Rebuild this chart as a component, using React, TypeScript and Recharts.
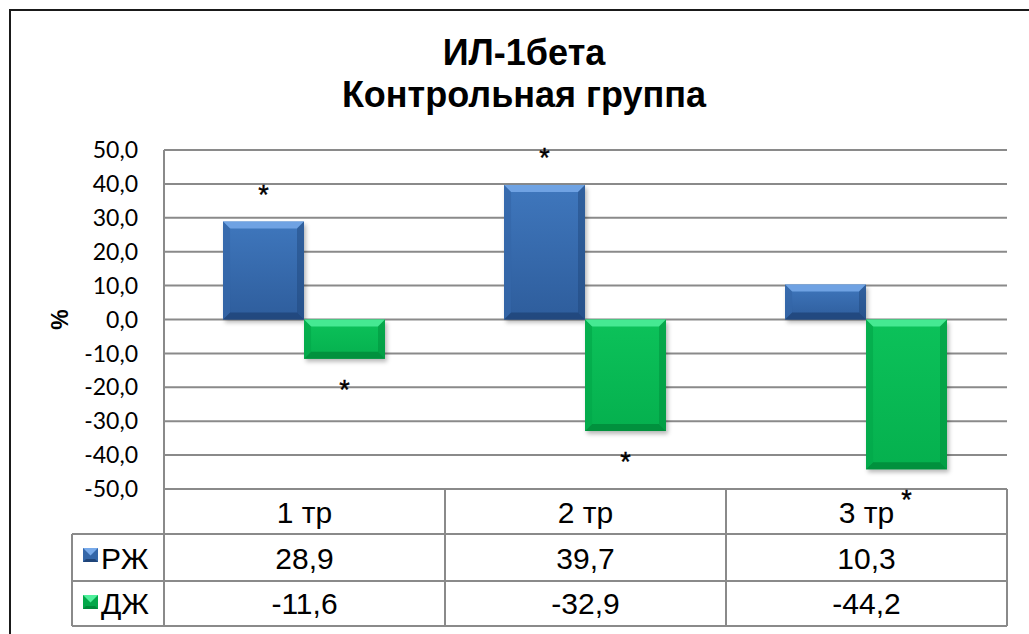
import React from 'react';
import { Bar, BarChart, CartesianGrid, LabelList, XAxis, YAxis } from 'recharts';

// data
const CATEGORIES = ['1 тр', '2 тр', '3 тр'];
const SERIES_NAMES = ['РЖ', 'ДЖ'];
const RZH = [28.9, 39.7, 10.3];
const DZH = [-11.6, -32.9, -44.2];
const RZH_MARKED = [true, true, false];
const DZH_MARKED = [true, true, true];
const Y_TICKS = [-50, -40, -30, -20, -10, 0, 10, 20, 30, 40, 50];

const CHART_W = 1029;
const CHART_H = 634;
const MARGIN = { top: 150, right: 22, left: 72, bottom: 8 };
const Y_AXIS_W = 92;
const X_AXIS_H = 137;
const PLOT_W = CHART_W - MARGIN.left - MARGIN.right - Y_AXIS_W;
const ROW_H = [45, 47, 45];

const GRID = '#8a8a8a';
const TABLE_FONT = '"Liberation Sans", Arial, sans-serif';

const fmt = (v: number) => v.toFixed(1).replace('.', ',');

const data = CATEGORIES.map((name, i) => ({ name, rzh: RZH[i], dzh: DZH[i] }));

const PALETTE = {
  blue: { top: '#3f77bd', bottom: '#2e5d9c', light: '#78aaea', dark: '#1f4478', side: '#3466a8' },
  green: { top: '#0cc25a', bottom: '#05b04e', light: '#50f09c', dark: '#008a3a', side: '#03a84a' },
};

function BevelBar(props: any, tone: 'blue' | 'green') {
  const { x, y, width, height } = props;
  if (width == null || height == null) return null;
  const top = Math.min(y, y + height);
  const h = Math.abs(height);
  const w = width;
  const b = Math.min(7, h / 3, w / 3);
  const c = PALETTE[tone];
  return (
    <g>
      <rect x={x + 2} y={top + 3} width={w} height={h} fill='rgba(0,0,0,0.28)' filter='url(#barShadow)' />
      <rect x={x} y={top} width={w} height={h} fill={`url(#grad-${tone})`} />
      <polygon points={`${x},${top} ${x + w},${top} ${x + w - b},${top + b} ${x + b},${top + b}`} fill={c.light} opacity={0.85} />
      <polygon points={`${x},${top + h} ${x + w},${top + h} ${x + w - b},${top + h - b} ${x + b},${top + h - b}`} fill={c.dark} opacity={0.8} />
      <polygon points={`${x},${top} ${x + b},${top + b} ${x + b},${top + h - b} ${x},${top + h}`} fill={c.side} opacity={0.7} />
      <polygon points={`${x + w},${top} ${x + w - b},${top + b} ${x + w - b},${top + h - b} ${x + w},${top + h}`} fill={c.dark} opacity={0.45} />
    </g>
  );
}

function Star(props: any, marks: boolean[], above: boolean) {
  const { x, y, width, height, index } = props;
  if (!marks[index]) return null;
  const top = Math.min(y, y + height);
  const bottom = Math.max(y, y + height);
  const cy = above ? top - 33 : bottom + 25;
  return (
    <text
      x={x + width / 2}
      y={cy + 15}
      textAnchor='middle'
      fontSize={27}
      fontFamily={TABLE_FONT}
      fill='#000'
      stroke='#000'
      strokeWidth={0.4}
    >
      *
    </text>
  );
}

function LegendIcon({ x, y, tone }: { x: number; y: number; tone: 'blue' | 'green' }) {
  const c = PALETTE[tone];
  const s = 15;
  const b = 3;
  return (
    <g>
      <rect x={x} y={y} width={s} height={s - 1} fill={c.side} />
      <polygon points={`${x},${y} ${x + s},${y} ${x + s / 2},${y + s / 2}`} fill={c.light} />
      <polygon points={`${x},${y + s - 1} ${x + s},${y + s - 1} ${x + s - b},${y + s - 1 - b} ${x + b},${y + s - 1 - b}`} fill={c.dark} />
    </g>
  );
}

function TableTick(props: any) {
  const { x, y, payload } = props;
  const i = payload.index ?? props.index ?? 0;
  const bw = PLOT_W / CATEGORIES.length;
  const left = x - bw / 2;
  const right = x + bw / 2;
  const r1 = y + ROW_H[0];
  const r2 = r1 + ROW_H[1];
  const r3 = r2 + ROW_H[2];
  const line = { stroke: GRID, strokeWidth: 2 };
  const legendLeft = left - Y_AXIS_W;
  const txt = { fontSize: 30, fontFamily: TABLE_FONT, fill: '#000' };
  return (
    <g>
      <line x1={left} x2={right} y1={y} y2={y} {...line} />
      <line x1={left} x2={right} y1={r1} y2={r1} {...line} />
      <line x1={left} x2={right} y1={r2} y2={r2} {...line} />
      <line x1={left} x2={right} y1={r3} y2={r3} {...line} />
      <line x1={left} x2={left} y1={y} y2={r3} {...line} />
      <line x1={right} x2={right} y1={y} y2={r3} {...line} />
      <text x={x} y={y + 34} textAnchor='middle' {...txt}>
        {CATEGORIES[i]}
      </text>
      <text x={x} y={r1 + 35} textAnchor='middle' {...txt}>
        {fmt(RZH[i])}
      </text>
      <text x={x} y={r2 + 33} textAnchor='middle' {...txt}>
        {fmt(DZH[i])}
      </text>
      {i === 0 && (
        <g>
          <line x1={legendLeft} x2={left} y1={r1} y2={r1} {...line} />
          <line x1={legendLeft} x2={left} y1={r2} y2={r2} {...line} />
          <line x1={legendLeft} x2={left} y1={r3} y2={r3} {...line} />
          <line x1={legendLeft} x2={legendLeft} y1={r1} y2={r3} {...line} />
          <LegendIcon x={legendLeft + 11} y={r1 + 14} tone='blue' />
          <LegendIcon x={legendLeft + 11} y={r2 + 14} tone='green' />
          <text x={legendLeft + 29} y={r1 + 35} {...txt}>
            {SERIES_NAMES[0]}
          </text>
          <text x={legendLeft + 29} y={r2 + 33} {...txt}>
            {SERIES_NAMES[1]}
          </text>
        </g>
      )}
    </g>
  );
}

export default function App() {
  return (
    <div
      style={{
        position: 'fixed',
        left: 0,
        top: 0,
        width: CHART_W,
        height: CHART_H,
        overflow: 'hidden',
        background: '#fff',
      }}
    >
      <div
        style={{
          position: 'absolute',
          left: 9,
          top: 9,
          width: 1060,
          height: 700,
          border: '2px solid #1a1a1a',
        }}
      />
      <div
        style={{
          position: 'absolute',
          left: 0,
          top: 32,
          width: 1048,
          textAlign: 'center',
          fontFamily: TABLE_FONT,
          fontWeight: 'bold',
          fontSize: 36,
          lineHeight: '42px',
          color: '#000',
        }}
      >
        ИЛ-1бета
        <br />
        Контрольная группа
      </div>
      <div style={{ position: 'absolute', left: 0, top: 0 }}>
        <BarChart
          width={CHART_W}
          height={CHART_H}
          data={data}
          margin={MARGIN}
          barCategoryGap='21%'
          barGap={0}
        >
          <defs>
            <linearGradient id='grad-blue' x1='0' y1='0' x2='0' y2='1'>
              <stop offset='0%' stopColor={PALETTE.blue.top} />
              <stop offset='100%' stopColor={PALETTE.blue.bottom} />
            </linearGradient>
            <linearGradient id='grad-green' x1='0' y1='0' x2='0' y2='1'>
              <stop offset='0%' stopColor={PALETTE.green.top} />
              <stop offset='100%' stopColor={PALETTE.green.bottom} />
            </linearGradient>
            <filter id='barShadow' x='-20%' y='-20%' width='140%' height='140%'>
              <feGaussianBlur stdDeviation='2' />
            </filter>
          </defs>
          <CartesianGrid vertical={false} stroke={GRID} strokeWidth={2} />
          <XAxis
            dataKey='name'
            height={X_AXIS_H}
            axisLine={false}
            tickLine={false}
            tickSize={0}
            tickMargin={0}
            interval={0}
            tick={TableTick}
          />
          <YAxis
            width={Y_AXIS_W}
            domain={[-50, 50]}
            ticks={Y_TICKS}
            interval={0}
            tickFormatter={fmt}
            axisLine={{ stroke: GRID, strokeWidth: 2 }}
            tickLine={false}
            tickSize={0}
            tickMargin={26}
            tick={{ fontSize: 23, fill: '#000', fontFamily: 'Lato, sans-serif' }}
            label={(p: any) => {
              const vb = p.viewBox || { x: 72, y: 150, height: 339 };
              const cx = vb.x - 12;
              const cy = vb.y + vb.height / 2;
              return (
                <text
                  x={cx}
                  y={cy}
                  transform={`rotate(-90 ${cx} ${cy})`}
                  textAnchor='middle'
                  dominantBaseline='central'
                  fontSize={23}
                  fontWeight='bold'
                  fontFamily={TABLE_FONT}
                  fill='#000'
                >
                  %
                </text>
              );
            }}
          />
          <Bar
            dataKey='rzh'
            name={SERIES_NAMES[0]}
            isAnimationActive={false}
            shape={(p: any) => BevelBar(p, 'blue')}
          >
            <LabelList dataKey='rzh' content={(p: any) => Star(p, RZH_MARKED, true)} />
          </Bar>
          <Bar
            dataKey='dzh'
            name={SERIES_NAMES[1]}
            isAnimationActive={false}
            shape={(p: any) => BevelBar(p, 'green')}
          >
            <LabelList dataKey='dzh' content={(p: any) => Star(p, DZH_MARKED, false)} />
          </Bar>
        </BarChart>
      </div>
    </div>
  );
}
